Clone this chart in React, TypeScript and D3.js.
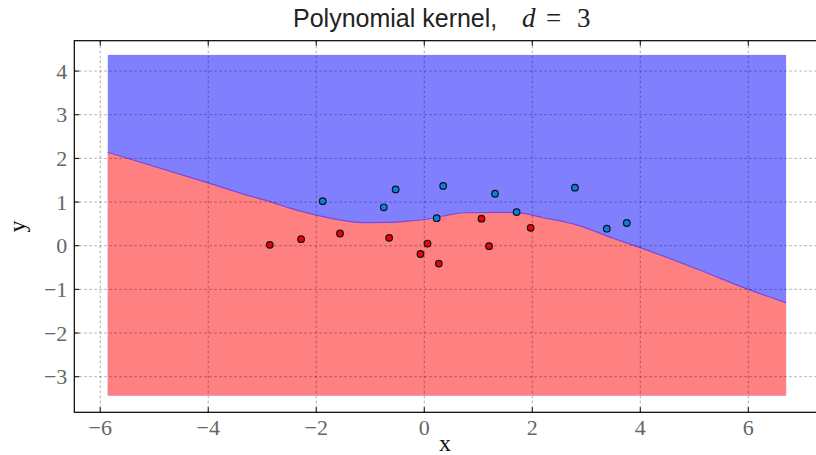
import React from "react";
import * as d3 from "d3";

const xTicks = [-6, -4, -2, 0, 2, 4, 6];
const yTicks = [-3, -2, -1, 0, 1, 2, 3, 4];

// class +1 (blue) points
const blueX = [-1.88, -0.75, -0.53, 0.23, 0.35, 1.31, 1.71, 2.79, 3.38, 3.75];
const blueY = [1.02, 0.88, 1.29, 0.63, 1.37, 1.19, 0.77, 1.33, 0.39, 0.52];
// class -1 (red) points
const redX = [-2.86, -2.28, -1.56, -0.65, -0.07, 0.06, 0.27, 1.06, 1.2, 1.97];
const redY = [0.02, 0.15, 0.28, 0.18, -0.19, 0.05, -0.41, 0.62, -0.01, 0.41];

// decision boundary
const boundaryX = [-5.86, -4.0, -3.23, -2.86, -2.49, -2.0, -1.56, -1.13, -0.64, -0.27, 0.01, 0.35, 0.75, 1.4, 1.83, 2.2, 2.51, 2.76, 3.5, 4.0, 5.1, 6.0, 6.7];
const boundaryY = [2.14, 1.44, 1.14, 1.01, 0.86, 0.7, 0.59, 0.53, 0.535, 0.57, 0.6, 0.68, 0.755, 0.765, 0.74, 0.64, 0.57, 0.5, 0.17, -0.045, -0.556, -1.0, -1.305];

const gridXRange = [-5.86, 6.7];
const gridYRange = [-3.43, 4.37];

const W = 816;
const H = 455;
const L = 74.3;
const T = 40.7;
const B = 412.3;
const R = 830;

export default function App() {
  const x = d3.scaleLinear().domain([-6.48, 7.513]).range([L, R]);
  const y = d3.scaleLinear().domain([-3.815, 4.695]).range([B, T]);

  const pts = boundaryX.map((bx, i) => [bx, boundaryY[i]] as [number, number]);
  const curve = d3.curveMonotoneX;
  const redArea = d3
    .area<[number, number]>()
    .x((d) => x(d[0]))
    .y0(y(gridYRange[0]))
    .y1((d) => y(d[1]))
    .curve(curve)(pts);
  const line = d3
    .line<[number, number]>()
    .x((d) => x(d[0]))
    .y((d) => y(d[1]))
    .curve(curve)(pts);

  const serif = "'Liberation Serif', 'DejaVu Serif', serif";
  const sans = "'Liberation Sans', 'DejaVu Sans', sans-serif";
  const fmt = (t: number) => (t < 0 ? "\u2212" + Math.abs(t) : String(t));

  return (
    <div style={{ position: "absolute", left: 0, top: 0 }}>
      <svg width={W} height={H} style={{ display: "block", background: "#fff" }}>
        <defs>
          <clipPath id="plotclip">
            <rect x={L} y={T} width={R - L} height={B - T} />
          </clipPath>
        </defs>
        <g clipPath="url(#plotclip)">
          <rect
            x={x(gridXRange[0])}
            y={y(gridYRange[1])}
            width={x(gridXRange[1]) - x(gridXRange[0])}
            height={y(gridYRange[0]) - y(gridYRange[1])}
            fill="#8080ff"
          />
          <path d={redArea || ""} fill="#ff8080" />
          <path d={line || ""} fill="none" stroke="#7a48e0" strokeWidth={1.2} />
          {xTicks.map((t) => (
            <line key={"gx" + t} x1={x(t)} x2={x(t)} y1={T} y2={B} stroke="#000" strokeOpacity={0.33} strokeDasharray="2.5,2.5" strokeWidth={1} />
          ))}
          {yTicks.map((t) => (
            <line key={"gy" + t} x1={L} x2={R} y1={y(t)} y2={y(t)} stroke="#000" strokeOpacity={0.33} strokeDasharray="2.5,2.5" strokeWidth={1} />
          ))}
          {redX.map((px, i) => (
            <circle key={"r" + i} cx={x(px)} cy={y(redY[i])} r={3.3} fill="#f00000" stroke="#111" strokeWidth={1.2} />
          ))}
          {blueX.map((px, i) => (
            <circle key={"b" + i} cx={x(px)} cy={y(blueY[i])} r={3.3} fill="#0a7ee6" stroke="#111" strokeWidth={1.2} />
          ))}
        </g>
        {/* spines */}
        <rect x={L} y={T} width={R - L} height={B - T} fill="none" stroke="#000" strokeWidth={1.2} />
        {/* ticks */}
        {xTicks.map((t) => (
          <g key={"tx" + t}>
            <line x1={x(t)} x2={x(t)} y1={B} y2={B - 5} stroke="#000" />
            <line x1={x(t)} x2={x(t)} y1={T} y2={T + 5} stroke="#000" />
            <text x={x(t)} y={B + 23} textAnchor="middle" fontFamily={serif} fontSize={22} fill="#666">
              {fmt(t)}
            </text>
          </g>
        ))}
        {yTicks.map((t) => (
          <g key={"ty" + t}>
            <line x1={L} x2={L + 5} y1={y(t)} y2={y(t)} stroke="#000" />
            <text x={L - 7} y={y(t) + 7.5} textAnchor="end" fontFamily={serif} fontSize={22} fill="#666">
              {fmt(t)}
            </text>
          </g>
        ))}
        {/* axis labels */}
        <text x={445} y={451} textAnchor="middle" fontFamily={serif} fontSize={24} fill="#111">x</text>
        <text transform={`translate(25,${(T + B) / 2}) rotate(-90)`} textAnchor="middle" fontFamily={serif} fontSize={24} fill="#111">y</text>
        {/* title */}
        <text x={293} y={27} fontSize={25} fill="#222">
          <tspan fontFamily={sans}>Polynomial kernel,</tspan>
          <tspan x={522} fontFamily={serif} fontStyle="italic" fontSize={27}>d</tspan>
          <tspan x={546} fontFamily={serif} fontSize={27}>=</tspan>
          <tspan x={577} fontFamily={serif} fontSize={27}>3</tspan>
        </text>
      </svg>
    </div>
  );
}
